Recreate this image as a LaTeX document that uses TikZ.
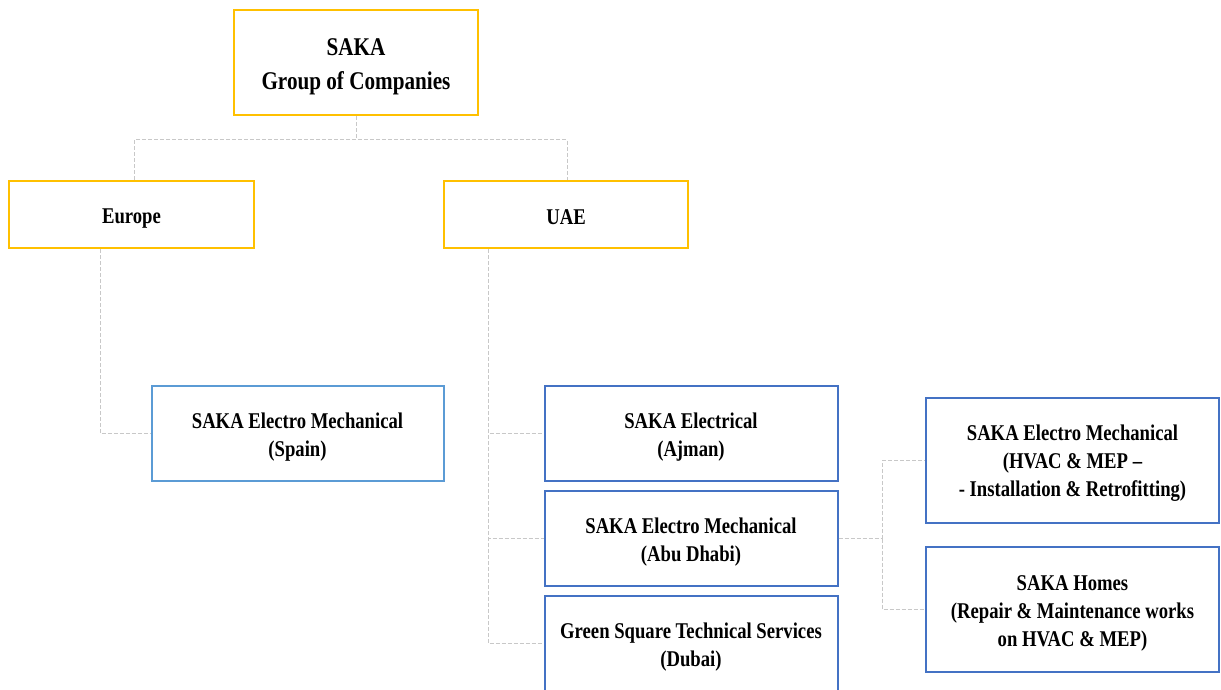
\documentclass[tikz,border=0pt]{standalone}
\usepackage{fontspec}
\setmainfont{Liberation Serif}[FakeStretch=0.83]
\begin{document}
\begin{tikzpicture}[x=1pt,y=-1pt,
  txt/.style={align=center,inner sep=0pt,yshift=-3.5pt,font=\bfseries\fontsize{22.5}{28}\selectfont},
  toptxt/.style={txt,yshift=-1pt,font=\bfseries\fontsize{25.5}{34}\selectfont},
  ybox/.style={draw=boxyellow,line width=2.2pt,rectangle,inner sep=0pt},
  bbox/.style={draw=boxblue,line width=2pt,rectangle,inner sep=0pt,
    minimum width=293pt,minimum height=95pt},
  conn/.style={draw=conngray,line width=0.9pt,dash pattern=on 4pt off 2pt}]
\definecolor{boxyellow}{HTML}{FFC000}
\definecolor{boxblue}{HTML}{4472C4}
\definecolor{lightblue}{HTML}{5B9BD5}
\definecolor{conngray}{HTML}{C8C8C8}
\useasboundingbox (0,0) rectangle (1221,689);
\clip (0,0) rectangle (1221,689);
% nodes
\node[ybox,minimum width=244pt,minimum height=105pt,label={[toptxt]center:{SAKA\\Group of Companies}}] (top) at (356,62.5) {};
\node[ybox,minimum width=245pt,minimum height=67pt,label={[txt,yshift=-1pt]center:{Europe}}] (europe) at (131.5,214.5) {};
\node[ybox,minimum width=244pt,minimum height=67pt,label={[txt,yshift=-1pt]center:{UAE\vphantom{p}}}] (uae) at (566,214.5) {};
\node[bbox,draw=lightblue,minimum width=292pt,label={[txt]center:{SAKA Electro Mechanical\\(Spain)}}] (spain) at (297.5,433.5) {};
\node[bbox,label={[txt]center:{SAKA Electrical\\(Ajman)}}] (ajman) at (691,433.5) {};
\node[bbox,label={[txt]center:{SAKA Electro Mechanical\\(Abu Dhabi)}}] (abu) at (691,538.5) {};
\node[bbox,label={[txt]center:{Green Square Technical Services\\(Dubai)}}] (dubai) at (691,643.5) {};
\node[bbox,minimum height=125pt,label={[txt]center:{SAKA Electro Mechanical\\(HVAC \& MEP --\\- Installation \& Retrofitting)}}] (hvac) at (1072.5,460) {};
\node[bbox,minimum height=125pt,label={[txt]center:{SAKA Homes\\(Repair \& Maintenance works\\on HVAC \& MEP)}}] (homes) at (1072.5,609.5) {};
% connectors
\coordinate (j1) at ([xshift=2.5pt,yshift=40pt]europe.north);
\draw[conn] (top.south) -- (top.south |- j1);
\draw[conn] ([xshift=2.5pt]europe.north) -- (j1) -| ([xshift=1pt]uae.north);
\draw[conn] ([xshift=-31.5pt]europe.south) |- (spain.west);
\coordinate (j2) at ([xshift=-78pt]uae.south);
\draw[conn] (j2) |- (dubai.west);
\draw[conn] (j2) |- (ajman.west);
\draw[conn] (j2) |- (abu.west);
\coordinate (j3) at ([xshift=44pt]abu.east);
\draw[conn] (abu.east) -- (j3);
\draw[conn] (j3) |- (hvac.west);
\draw[conn] (j3) |- (homes.west);
\end{tikzpicture}
\end{document}
